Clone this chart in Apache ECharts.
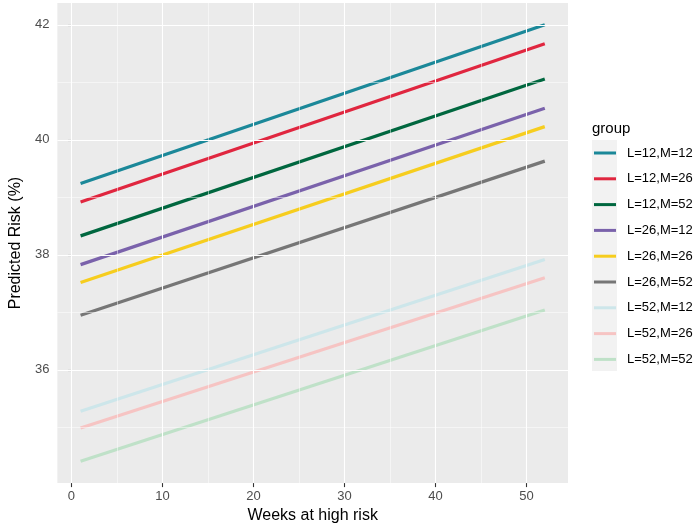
<!DOCTYPE html>
<html>
<head>
<meta charset="utf-8">
<script src="https://cdn.jsdelivr.net/npm/echarts@6/dist/echarts.min.js"></script>
<style>html,body{margin:0;padding:0;background:#fff}#c{width:700px;height:529px}</style>
</head>
<body>
<div id="c"></div>
<script>
// Data
const weeks = [1, 52];
const groups = ['L=12,M=12','L=12,M=26','L=12,M=52','L=26,M=12','L=26,M=26','L=26,M=52','L=52,M=12','L=52,M=26','L=52,M=52'];
const riskAtWeek1  = [39.24, 38.92, 38.33, 37.83, 37.52, 36.95, 35.28, 34.99, 34.41];
const riskAtWeek52 = [42.00, 41.67, 41.06, 40.55, 40.23, 39.63, 37.92, 37.60, 37.04];
const xTicks = [0, 10, 20, 30, 40, 50];
const yTicks = [36, 38, 40, 42];
const xMinor = [5, 15, 25, 35, 45];
const yMinor = [35, 37, 39, 41];
const colors = ['#1b8899','#e0263f','#00673f','#7a62ab','#f6cd1e','#767676','#cde6ea','#f6c4c3','#bfe1c8'];

const font = 'Liberation Sans, Arial, sans-serif';
const chart = echarts.init(document.getElementById('c'), null, {renderer: 'canvas'});

const gridLines = {
  type: 'line', data: [], silent: true, z: 1,
  markLine: {
    silent: true, symbol: 'none', label: {show: false}, animation: false,
    data: [
      ...yMinor.map(v => ({yAxis: v, lineStyle: {color: '#fff', width: 0.5, type: 'solid'}})),
      ...xMinor.map(v => ({xAxis: v, lineStyle: {color: '#fff', width: 0.5, type: 'solid'}})),
      ...yTicks.map(v => ({yAxis: v, lineStyle: {color: '#fff', width: 1.1, type: 'solid'}})),
      ...xTicks.map(v => ({xAxis: v, lineStyle: {color: '#fff', width: 1.1, type: 'solid'}}))
    ]
  }
};

const series = [gridLines].concat(groups.map((g, i) => ({
  name: g, type: 'line', z: 3,
  data: [[weeks[0], riskAtWeek1[i]], [weeks[1], riskAtWeek52[i]]],
  showSymbol: false, symbol: 'none',
  lineStyle: {color: colors[i], width: 3.2},
  itemStyle: {color: colors[i]},
  animation: false
})));

chart.setOption({
  animation: false,
  textStyle: {fontFamily: font},
  grid: {left: 45, right: 132, top: 3, bottom: 45, show: true, backgroundColor: '#ebebeb', borderWidth: 0},
  title: {text: 'group', left: 592, top: 121, padding: 0, textStyle: {fontFamily: font, fontSize: 15, fontWeight: 'normal', color: '#000'}},
  graphic: [{type: 'rect', left: 592, top: 140, shape: {width: 25, height: 231}, style: {fill: '#f2f2f2'}, z: -1}],
  legend: {
    orient: 'vertical', left: 594, top: 145, padding: [0, 0, 0, 0],
    data: groups, icon: 'rect', itemWidth: 22, itemHeight: 3, itemGap: 9.8,
    textStyle: {fontFamily: font, fontSize: 13, color: '#000', lineHeight: 16, padding: [0, 0, 0, 6]}
  },
  xAxis: {
    type: 'value', min: -1.55, max: 54.55,
    name: 'Weeks at high risk', nameLocation: 'middle', nameGap: 21,
    nameTextStyle: {fontFamily: font, fontSize: 16, color: '#000'},
    axisLine: {show: false},
    axisTick: {show: true, customValues: xTicks, length: 4, lineStyle: {color: '#333', width: 1.1}},
    axisLabel: {customValues: xTicks, color: '#4d4d4d', fontSize: 13, margin: 7, fontFamily: font},
    splitLine: {show: false}
  },
  yAxis: {
    type: 'value', min: 34.03, max: 42.38,
    name: 'Predicted Risk (%)', nameLocation: 'middle', nameGap: 27,
    nameTextStyle: {fontFamily: font, fontSize: 16, color: '#000'},
    axisLine: {show: false},
    axisTick: {show: true, customValues: yTicks, length: 4, lineStyle: {color: '#333', width: 1.1}},
    axisLabel: {customValues: yTicks, color: '#4d4d4d', fontSize: 13, margin: 8, fontFamily: font},
    splitLine: {show: false}
  },
  series: series
});
</script>
</body>
</html>
